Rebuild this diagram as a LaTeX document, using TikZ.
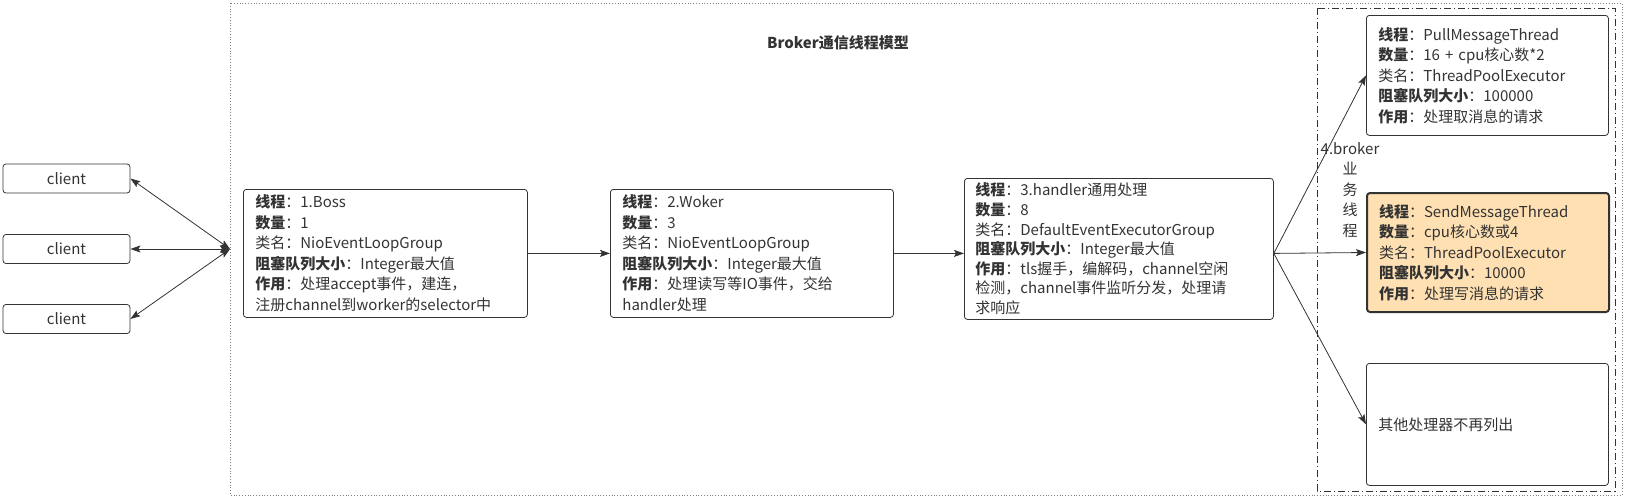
\documentclass[tikz,border=0pt]{standalone}
\usepackage{fontspec}
\setmainfont{Noto Sans CJK SC}
\usepackage{xcolor}
\usetikzlibrary{positioning,calc,arrows.meta}
\definecolor{linegray}{HTML}{333333}
\definecolor{sendfill}{HTML}{FFE0B2}

\begin{document}
\begin{tikzpicture}[x=1pt,y=-1pt,
    >={Stealth[length=10pt,width=7pt,inset=2pt]},
    every node/.style={font=\fontsize{15}{20.5}\selectfont, text=linegray},
    box/.style={draw=linegray, line width=0.8pt, rounded corners=3pt, align=left,
        anchor=north west, inner xsep=12pt, inner ysep=0pt},
    clientbox/.style={draw=linegray, line width=0.8pt, rounded corners=3pt,
        minimum width=127pt, minimum height=29pt, inner sep=0pt},
    conn/.style={draw=linegray, line width=0.8pt, ->},
    biconn/.style={draw=linegray, line width=0.8pt, <->}]
    \useasboundingbox (0,0) rectangle (1626,501);

    % Frames
    \draw[dotted, line width=0.8pt, gray] (230,3) rectangle (1622,495);
    \draw[dash pattern=on 7pt off 3pt on 1pt off 3pt, line width=0.7pt, linegray] (1317,8) rectangle (1615,491);

    % Title
    \node[font=\fontsize{15}{20}\selectfont\bfseries] (title) at (838,43) {Broker通信线程模型};

    % Clients
    \node[clientbox] (client1) at (66.5,178.5) {client};
    \node[clientbox] (client2) at (66.5,249) {client};
    \node[clientbox] (client3) at (66.5,319) {client};
    \coordinate (hub) at (230,249);

    % Boss
    \node[box, text width=260pt, minimum height=128pt] (boss) at (243,189) {%
        \textbf{线程}：1.Boss\\
        \textbf{数量}：1\\
        类名：NioEventLoopGroup\\
        \textbf{阻塞队列大小}：Integer最大值\\
        \textbf{作用}：处理accept事件，建连，\\
        注册channel到worker的selector中};

    % Woker
    \node[box, text width=259pt, minimum height=128pt] (woker) at (610,189) {%
        \textbf{线程}：2.Woker\\
        \textbf{数量}：3\\
        类名：NioEventLoopGroup\\
        \textbf{阻塞队列大小}：Integer最大值\\
        \textbf{作用}：处理读写等IO事件，交给\\
        handler处理};

    % Handler
    \node[box, text width=287pt, minimum height=141pt, inner xsep=11pt, inner ysep=1pt,
        font=\fontsize{15}{19.6}\selectfont] (handler) at (964,178) {%
        \textbf{线程}：3.handler通用处理\\
        \textbf{数量}：8\\
        类名：DefaultEventExecutorGroup\\
        \textbf{阻塞队列大小}：Integer最大值\\
        \textbf{作用}：tls握手，编解码，channel空闲\\
        检测，channel事件监听分发，处理请\\
        求响应};
    \coordinate (split) at (woker.east -| handler.east);

    % Broker business threads
    \node[align=center] (bizlabel) at (1350,190) {4.broker\\业\\务\\线\\程};

    \node[box, text width=218pt, minimum height=120pt] (pull) at (1366,15) {%
        \textbf{线程}：PullMessageThread\\
        \textbf{数量}：16 + cpu核心数*2\\
        类名：ThreadPoolExecutor\\
        \textbf{阻塞队列大小}：100000\\
        \textbf{作用}：处理取消息的请求};

    \node[box, text width=218pt, minimum height=119pt, line width=2pt, fill=sendfill] (send) at (1366,192) {%
        \textbf{线程}：SendMessageThread\\
        \textbf{数量}：cpu核心数或4\\
        类名：ThreadPoolExecutor\\
        \textbf{阻塞队列大小}：10000\\
        \textbf{作用}：处理写消息的请求};

    \node[box, text width=218pt, minimum height=122pt] (other) at (1366,363) {其他处理器不再列出};

    % Connectors
    \draw[biconn] (client1.east) -- (hub);
    \draw[biconn] (client2.east) -- (hub);
    \draw[biconn] (client3.east) -- (hub);
    \draw[conn] (boss.east) -- (woker.west);
    \draw[conn] (woker.east) -- (woker.east -| handler.west);
    \draw[conn] (split) -- (pull.west);
    \draw[conn] (split) -- (send.west);
    \draw[conn] (split) -- (other.west);
\end{tikzpicture}
\end{document}
